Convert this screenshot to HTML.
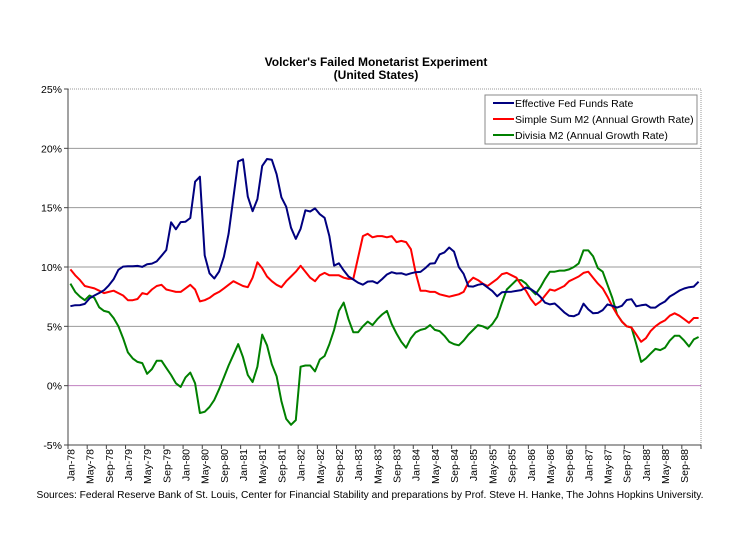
<!DOCTYPE html>
<html><head><meta charset="utf-8"><style>
body{margin:0;background:#fff;}
svg{display:block;font-family:"Liberation Sans",Arial,sans-serif;}
</style></head><body>
<svg id="chart" width="737" height="554" viewBox="0 0 737 554">
<text x="376" y="66" text-anchor="middle" font-size="12" font-weight="bold">Volcker's Failed Monetarist Experiment</text>
<text x="376" y="79" text-anchor="middle" font-size="12" font-weight="bold">(United States)</text>
<g id="grid"></g><g id="axes"></g><g id="series"></g>
<g>
<rect x="485" y="95" width="212" height="49" fill="#fff" stroke="#888" stroke-width="1"/>
<line x1="493" y1="103" x2="514" y2="103" stroke="#00007f" stroke-width="2"/>
<text x="515" y="107" font-size="10.5">Effective Fed Funds Rate</text>
<line x1="493" y1="119" x2="514" y2="119" stroke="#ff0000" stroke-width="2"/>
<text x="515" y="123" font-size="10.5">Simple Sum M2 (Annual Growth Rate)</text>
<line x1="493" y1="135" x2="514" y2="135" stroke="#008000" stroke-width="2"/>
<text x="515" y="139" font-size="10.5">Divisia M2 (Annual Growth Rate)</text>
</g>
<text x="370" y="498" text-anchor="middle" font-size="10.5" textLength="667" lengthAdjust="spacingAndGlyphs">Sources: Federal Reserve Bank of St. Louis, Center for Financial Stability and preparations by Prof. Steve H. Hanke, The Johns Hopkins University.</text>
</svg>
<script>
const yTicks=[-5,0,5,10,15,20,25];
const monthNames=["Jan","Feb","Mar","Apr","May","Jun","Jul","Aug","Sep","Oct","Nov","Dec"];
const years=[78,79,80,81,82,83,84,85,86,87,88];
const fedFunds=[6.70,6.78,6.79,6.89,7.36,7.60,7.81,8.04,8.45,8.96,9.76,10.03,
10.07,10.06,10.09,10.01,10.24,10.29,10.47,10.94,11.43,13.77,13.18,13.78,
13.82,14.13,17.19,17.61,10.98,9.47,9.03,9.61,10.87,12.81,15.85,18.90,
19.08,15.93,14.70,15.72,18.52,19.10,19.04,17.82,15.87,15.08,13.31,12.37,
13.22,14.78,14.68,14.94,14.45,14.15,12.59,10.12,10.31,9.71,9.20,8.95,
8.68,8.51,8.77,8.80,8.63,8.98,9.37,9.56,9.45,9.48,9.34,9.47,
9.56,9.59,9.91,10.29,10.32,11.06,11.23,11.64,11.30,9.99,9.43,8.38,
8.35,8.50,8.58,8.27,7.97,7.53,7.88,7.90,7.92,7.99,8.05,8.27,
8.14,7.86,7.48,6.99,6.85,6.92,6.56,6.17,5.89,5.85,6.04,6.91,
6.43,6.10,6.13,6.37,6.85,6.73,6.58,6.73,7.22,7.29,6.69,6.77,
6.83,6.58,6.58,6.87,7.09,7.51,7.75,8.01,8.19,8.30,8.35,8.76];
const simpleM2=[9.8,9.3,8.9,8.4,8.3,8.2,8.0,7.8,7.9,8.0,7.8,7.6,
7.2,7.2,7.3,7.8,7.7,8.1,8.4,8.5,8.1,8.0,7.9,7.9,
8.2,8.5,8.1,7.1,7.2,7.4,7.7,7.9,8.2,8.5,8.8,8.6,
8.4,8.3,9.1,10.4,9.9,9.2,8.8,8.5,8.3,8.8,9.2,9.6,
10.1,9.6,9.1,8.8,9.3,9.5,9.3,9.3,9.3,9.1,9.0,9.0,
10.8,12.6,12.8,12.5,12.6,12.6,12.5,12.6,12.1,12.2,12.1,11.5,
9.5,8.0,8.0,7.9,7.9,7.7,7.6,7.5,7.6,7.7,7.9,8.7,
9.1,8.9,8.6,8.4,8.7,9.0,9.4,9.5,9.3,9.1,8.5,8.0,
7.3,6.8,7.1,7.6,8.1,8.0,8.2,8.4,8.8,9.0,9.2,9.5,
9.6,9.1,8.6,8.2,7.5,6.7,6.0,5.4,5.0,4.9,4.3,3.7,
4.0,4.6,5.0,5.3,5.5,5.9,6.1,5.9,5.6,5.3,5.7,5.7];
const divisiaM2=[8.6,7.9,7.5,7.2,7.6,7.4,6.6,6.3,6.2,5.7,5.0,4.0,
2.8,2.3,2.0,1.9,1.0,1.4,2.1,2.1,1.5,0.9,0.2,-0.1,
0.7,1.1,0.2,-2.3,-2.2,-1.8,-1.2,-0.3,0.7,1.7,2.6,3.5,
2.4,0.9,0.3,1.6,4.3,3.4,1.8,0.8,-1.3,-2.8,-3.3,-2.9,
1.6,1.7,1.7,1.2,2.2,2.5,3.5,4.7,6.3,7.0,5.6,4.5,
4.5,5.0,5.4,5.1,5.6,6.0,6.3,5.2,4.4,3.7,3.2,4.0,
4.5,4.7,4.8,5.1,4.7,4.6,4.2,3.7,3.5,3.4,3.8,4.3,
4.7,5.1,5.0,4.8,5.2,5.8,7.0,8.1,8.5,8.9,8.9,8.6,
8.1,7.7,8.3,9.0,9.6,9.6,9.7,9.7,9.8,10.0,10.3,11.4,
11.4,10.9,9.9,9.6,8.5,7.4,6.0,5.4,5.0,4.9,3.5,2.0,
2.3,2.7,3.1,3.0,3.2,3.8,4.2,4.2,3.8,3.3,3.9,4.1];

const NS="http://www.w3.org/2000/svg";
const L=68,R=701,T=89,B=445,N=fedFunds.length;
const step=(R-L)/N;
const xPos=i=>L+step*(i+0.5);
const yPos=v=>B-(v-(-5))/30*(B-T);
function mk(tag,attrs,parent){const e=document.createElementNS(NS,tag);for(const k in attrs)e.setAttribute(k,attrs[k]);parent.appendChild(e);return e;}
const grid=document.getElementById('grid'),axes=document.getElementById('axes'),series=document.getElementById('series');
mk('rect',{x:L,y:T,width:R-L,height:B-T,fill:'none',stroke:'#999','stroke-dasharray':'1,1'},grid);
yTicks.forEach(v=>{
  const y=yPos(v);
  if(v>-5&&v<25){
    const g=mk('line',{x1:L,x2:R,y1:y,y2:y,stroke:v===0?'#c080c0':'#999','stroke-width':1},grid);
    
    
  }
  mk('line',{x1:L-4,x2:L,y1:y,y2:y,stroke:'#444'},axes);
  const t=mk('text',{x:L-6,y:y+4,'text-anchor':'end','font-size':10.5},axes);
  t.textContent=v+'%';
  
  
});
mk('line',{x1:L,x2:L,y1:T,y2:B,stroke:'#444'},axes);
mk('line',{x1:L,x2:R,y1:B,y2:B,stroke:'#444'},axes);
for(let i=0;i<N;i+=4){
  const x=xPos(i);
  mk('line',{x1:x-step/2,x2:x-step/2,y1:B,y2:B+4,stroke:'#444'},axes);
  const lab=monthNames[i%12]+'-'+years[Math.floor(i/12)];
  const t=mk('text',{x:0,y:0,'text-anchor':'end','font-size':10.5,transform:`translate(${x+4},${B+4}) rotate(-90)`},axes);
  t.textContent=lab;
  
  
}
mk('line',{x1:R,x2:R,y1:B,y2:B+4,stroke:'#444'},axes);
function line(data,color,name){
  const p=mk('polyline',{points:data.map((v,i)=>xPos(i).toFixed(1)+','+yPos(v).toFixed(1)).join(' '),fill:'none',stroke:color,'stroke-width':2,'stroke-linejoin':'round'},series);
  
  
}
line(divisiaM2,'#008000','divisia-m2-line');
line(simpleM2,'#ff0000','simple-m2-line');
line(fedFunds,'#00007f','fed-funds-line');
</script>
</body></html>
